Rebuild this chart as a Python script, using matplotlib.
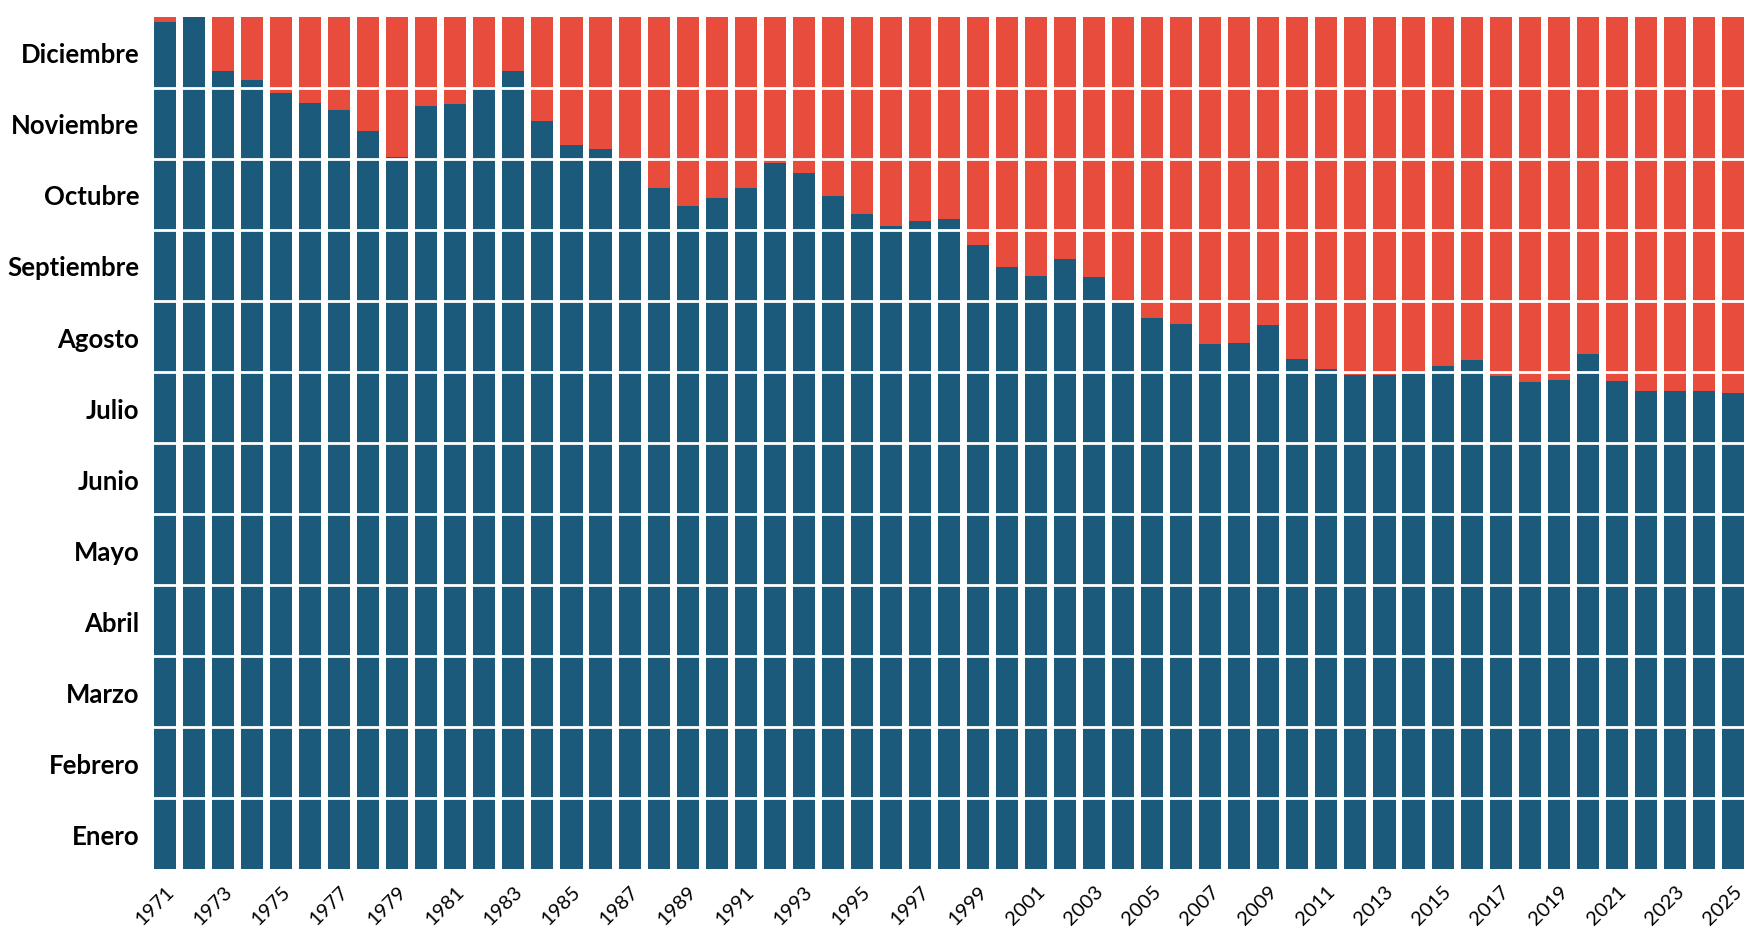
import numpy as np
import matplotlib.pyplot as plt

years = list(range(1971, 2026))
# blue height in months (month the period ends)
blue = [11.93, 12.0, 11.24, 11.11, 10.93, 10.78, 10.69, 10.39, 10.03, 10.74,
        10.77, 10.99, 11.24, 10.53, 10.20, 10.14, 9.97, 9.59, 9.34, 9.45,
        9.59, 9.94, 9.80, 9.48, 9.23, 9.06, 9.12, 9.15, 8.79, 8.48,
        8.35, 8.59, 8.34, 7.99, 7.76, 7.68, 7.39, 7.41, 7.66, 7.19,
        7.05, 6.96, 6.96, 7.02, 7.08, 7.17, 6.94, 6.86, 6.89, 7.25,
        6.88, 6.73, 6.73, 6.73, 6.70]
months = ['Enero', 'Febrero', 'Marzo', 'Abril', 'Mayo', 'Junio', 'Julio',
          'Agosto', 'Septiembre', 'Octubre', 'Noviembre', 'Diciembre']

plt.rcParams['font.family'] = ['Lato', 'DejaVu Sans']
fig = plt.figure(figsize=(17.46, 9.37), dpi=100)
ax = fig.add_axes([0.087, 0.071, 0.913, 0.91])

x = np.arange(len(years))
blue = np.array(blue)
ax.bar(x, blue, width=0.76, color='#1b5a7a')
ax.bar(x, 12 - blue, bottom=blue, width=0.76, color='#e84c3d')
for k in range(1, 12):
    ax.axhline(k, color='white', lw=2)

ax.set_xlim(-0.45, len(years) - 0.55)
ax.set_ylim(0, 12)
ax.set_yticks(np.arange(12) + 0.5)
ax.set_yticklabels(months, fontsize=18.5, fontweight='bold')
ax.set_xticks(x[::2])
ax.set_xticklabels([str(y) for y in years[::2]], rotation=45, fontsize=14.5,
                   ha='right', rotation_mode='anchor')
ax.tick_params(length=0, pad=9)
for s in ax.spines.values():
    s.set_visible(False)

fig.savefig('out.png')
